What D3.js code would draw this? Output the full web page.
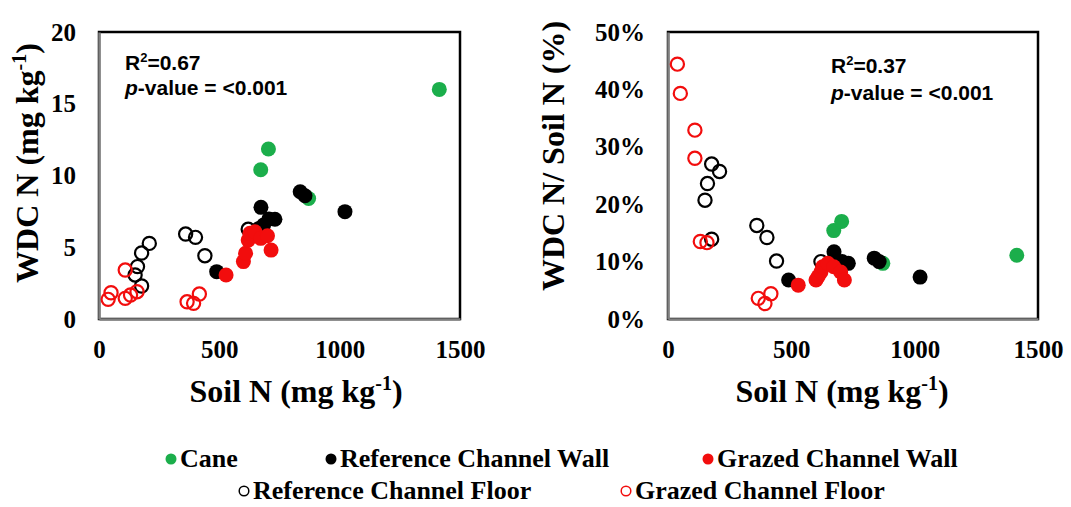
<!DOCTYPE html>
<html>
<head>
<meta charset="utf-8">
<script src="https://cdn.jsdelivr.net/npm/d3@7"></script>
<style>
  body { margin: 0; background: #fff; }
  text { fill: #000; }
</style>
</head>
<body>
<svg id="fig" width="1071" height="507"></svg>
<script>
// values (soil N in mg/kg, WDC N in mg/kg, ratio as fraction)
const caneSoilN = [672, 704, 871, 1414];
const caneWdcN  = [10.4, 11.85, 8.4, 16.0];
const canePct   = [0.154, 0.170, 0.097, 0.111];

const refWallSoilN = [489, 664, 673, 684, 706, 731, 836, 856, 1022];
const refWallWdcN  = [3.3, 6.3, 7.78, 6.55, 6.97, 6.95, 8.87, 8.59, 7.48];
const refWallPct   = [0.068, 0.095, 0.117, 0.096, 0.100, 0.097, 0.106, 0.100, 0.073];

const grzWallSoilN = [528, 600, 609, 620, 627, 648, 672, 700, 715];
const grzWallWdcN  = [3.07, 4.0, 4.58, 5.5, 5.97, 6.08, 5.62, 5.8, 4.8];
const grzWallPct   = [0.059, 0.068, 0.074, 0.082, 0.091, 0.097, 0.091, 0.082, 0.068];

const refFloorSoilN = [150, 160, 177, 177, 209, 360, 401, 440, 620];
const refFloorWdcN  = [3.07, 3.65, 4.6, 2.3, 5.27, 5.92, 5.69, 4.41, 6.25];
const refFloorPct   = [0.207, 0.236, 0.270, 0.139, 0.257, 0.163, 0.142, 0.101, 0.100];

const grzFloorSoilN = [38, 50, 109, 109, 131, 158, 366, 393, 417];
const grzFloorWdcN  = [1.37, 1.83, 3.41, 1.44, 1.67, 1.9, 1.2, 1.09, 1.74];
const grzFloorPct   = [0.444, 0.393, 0.329, 0.280, 0.135, 0.133, 0.036, 0.027, 0.044];

const xTicks = [0, 500, 1000, 1500];
const yTicksLeft = [0, 5, 10, 15, 20];
const yTicksRight = [0, 0.1, 0.2, 0.3, 0.4, 0.5];

const GREEN = '#1bae4b';
const RED = '#f20d0d';

// draw order matters: later series sit on top
const series = [
  { name: 'Cane', x: caneSoilN, a: caneWdcN, b: canePct, color: GREEN, open: false },
  { name: 'Reference Channel Wall', x: refWallSoilN, a: refWallWdcN, b: refWallPct, color: '#000', open: false },
  { name: 'Reference Channel Floor', x: refFloorSoilN, a: refFloorWdcN, b: refFloorPct, color: '#000', open: true },
  { name: 'Grazed Channel Wall', x: grzWallSoilN, a: grzWallWdcN, b: grzWallPct, color: RED, open: false },
  { name: 'Grazed Channel Floor', x: grzFloorSoilN, a: grzFloorWdcN, b: grzFloorPct, color: RED, open: true },
];

const SERIF = '"Liberation Serif", "Times New Roman", serif';
const SANS = '"Liberation Sans", Arial, sans-serif';

const svg = d3.select('#fig');

function panel(opts) {
  const { box, yDomain, yTicks, yFmt, key, yTitle, yTitlePos, xTitleX, stats } = opts;
  const x = d3.scaleLinear().domain([0, 1500]).range([box.l, box.r]);
  const y = d3.scaleLinear().domain(yDomain).range([box.b, box.t]);
  const g = svg.append('g');

  // frame: black top/right, grey axis lines at left/bottom
  g.append('rect')
    .attr('x', box.l).attr('y', box.t)
    .attr('width', box.r - box.l).attr('height', box.b - box.t)
    .attr('fill', 'none').attr('stroke', '#000').attr('stroke-width', 2.5);

  const ax = g.append('g')
    .attr('transform', `translate(0,${box.b})`)
    .call(d3.axisBottom(x).tickValues(xTicks).tickSize(0).tickPadding(21).tickFormat(d3.format('d')));
  const ay = g.append('g')
    .attr('transform', `translate(${box.l},0)`)
    .call(d3.axisLeft(y).tickValues(yTicks).tickSize(0).tickPadding(23).tickFormat(yFmt));
  [ax, ay].forEach(a => {
    a.select('.domain').attr('stroke', '#808080').attr('stroke-width', 2.5);
    a.selectAll('text')
      .style('font-family', SERIF).style('font-weight', 'bold')
      .style('font-size', '25px').attr('fill', '#000');
  });

  // points
  for (const s of series) {
    const pts = s.x.map((v, i) => [v, s[key][i]]);
    g.append('g').selectAll('circle').data(pts).join('circle')
      .attr('cx', d => x(d[0]))
      .attr('cy', d => y(d[1]))
      .attr('r', s.open ? 6.6 : 7.5)
      .attr('fill', s.open ? 'none' : s.color)
      .attr('stroke', s.color)
      .attr('stroke-width', s.open ? 2.2 : 0);
  }

  // stats text
  const st = g.append('g').style('font-family', SANS).style('font-weight', 'bold').style('font-size', '21px');
  const r2 = st.append('text').attr('x', stats.x).attr('y', stats.y1);
  r2.append('tspan').text('R');
  r2.append('tspan').attr('dy', -8).style('font-size', '13px').text('2');
  r2.append('tspan').attr('dy', 8).text('=' + stats.r2);
  const pv = st.append('text').attr('x', stats.x).attr('y', stats.y2);
  pv.append('tspan').style('font-style', 'italic').text('p');
  pv.append('tspan').text('-value = <0.001');

  // axis titles
  const xt = g.append('text')
    .attr('x', xTitleX).attr('y', 402)
    .attr('text-anchor', 'middle')
    .style('font-family', SERIF).style('font-weight', 'bold').style('font-size', '32px');
  xt.append('tspan').text('Soil N (mg kg');
  xt.append('tspan').attr('dy', -12).style('font-size', '20px').text('-1');
  xt.append('tspan').attr('dy', 12).text(')');

  const yt = g.append('text')
    .attr('transform', `translate(${yTitlePos[0]},${yTitlePos[1]}) rotate(-90)`)
    .attr('text-anchor', 'middle')
    .style('font-family', SERIF).style('font-weight', 'bold').style('font-size', '32px');
  yTitle(yt);
}

panel({
  box: { l: 99, r: 460, t: 32, b: 319 },
  yDomain: [0, 20], yTicks: yTicksLeft, yFmt: d3.format('d'), key: 'a',
  yTitle: t => {
    t.append('tspan').text('WDC N (mg kg');
    t.append('tspan').attr('dy', -12).style('font-size', '20px').text('-1');
    t.append('tspan').attr('dy', 12).text(')');
  },
  yTitlePos: [38, 163], xTitleX: 296,
  stats: { x: 125, y1: 70, y2: 95, r2: '0.67' },
});

panel({
  box: { l: 668, r: 1038, t: 32, b: 319 },
  yDomain: [0, 0.5], yTicks: yTicksRight, yFmt: d3.format('.0%'), key: 'b',
  yTitle: t => t.text('WDC N/ Soil N (%)'),
  yTitlePos: [564, 156], xTitleX: 842,
  stats: { x: 831, y1: 73, y2: 100, r2: '0.37' },
});

// legend
const legendRows = [
  [{ s: series[0], x: 171 }, { s: series[1], x: 331 }, { s: series[3], x: 708 }],
  [{ s: series[2], x: 244 }, { s: series[4], x: 626 }],
];
const legendY = [459, 491];
const lg = svg.append('g');
legendRows.forEach((row, ri) => {
  row.forEach(item => {
    const s = item.s;
    lg.append('circle')
      .attr('cx', item.x).attr('cy', legendY[ri])
      .attr('r', s.open ? 4.8 : 5.5)
      .attr('fill', s.open ? 'none' : s.color)
      .attr('stroke', s.color)
      .attr('stroke-width', s.open ? 1.5 : 0);
    lg.append('text')
      .attr('x', item.x + 9).attr('y', legendY[ri] + 8)
      .style('font-family', SERIF).style('font-weight', 'bold').style('font-size', '26px')
      .text(s.name);
  });
});
</script>
</body>
</html>
